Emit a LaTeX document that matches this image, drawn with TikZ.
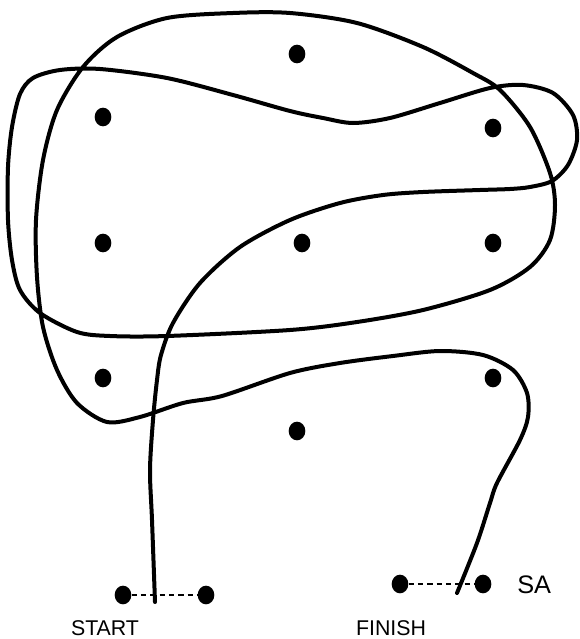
\documentclass[tikz,border=0pt]{standalone}
\usepackage{fontspec}
\setmainfont{Liberation Sans}
\usetikzlibrary{shapes.geometric}
\begin{document}
\begin{tikzpicture}[x=0.75pt,y=-0.75pt,
  dot/.style={ellipse,fill=black,inner sep=0pt,minimum width=12.5pt,minimum height=14pt},
  route/.style={line width=3pt,line cap=round,line join=round},
  dashline/.style={line width=1pt,dash pattern=on 4pt off 3pt},
  lbl/.style={font=\fontsize{16}{18}\selectfont,inner sep=0pt},
  biglbl/.style={font=\fontsize{19}{21}\selectfont,inner sep=0pt}]
\useasboundingbox (0,0) rectangle (580,639);
% grid dots
\node[dot] (d1) at (297,54) {};
\node[dot] (d2) at (103,117) {};
\node[dot] (d3) at (493,128) {};
\node[dot] (d4) at (103,243) {};
\node[dot] (d5) at (302,243) {};
\node[dot] (d6) at (493,243) {};
\node[dot] (d7) at (103,378) {};
\node[dot] (d8) at (493,378) {};
\node[dot] (d9) at (297,431) {};
% start / finish dots
\node[dot] (s1) at (123,595) {};
\node[dot] (s2) at (206,595) {};
\node[dot] (f1) at (400,584) {};
\node[dot] (f2) at (483,584) {};
\draw[dashline] (s1) -- (s2);
\draw[dashline] (f1) -- (f2);
% labels
\node[lbl,anchor=base] (tstart) at (105,635.5) {START};
\node[lbl,anchor=base] (tfinish) at (391,635.5) {FINISH};
\node[biglbl,anchor=base west] (tsa) at (517,593) {SA};
% route
\coordinate (rs) at (155,602);
\coordinate (re) at (457,593);
\draw[route] plot[smooth,tension=0.5] coordinates {
 (rs) (152,520) (150,470) (153,420) (157,380) (161,355) (173,323)
 (200,283) (240,247) (290,220) (340,203) (383,195) (423,192) (480,190) (510,189)
 (530,187) (552,181) (568,165) (577,140) (573,115) (553,93) (523,85) (490,88)
 (440,103) (390,118) (353,123) (323,118) (290,111) (233,95) (167,78) (100,69)
 (60,70) (33,78) (20,94) (12,127) (8,167) (8,220) (12,260) (20,290) (40,313)
 (77,332) (110,336) (167,336) (290,330) (357,322) (423,310) (490,290) (530,267)
 (550,240) (555,205) (550,173) (530,127) (500,90) (473,73) (423,47) (357,23)
 (290,13) (233,13) (167,18) (117,37) (83,67) (57,110) (43,160) (36,220)
 (37,277) (43,327) (57,370) (77,403) (107,422) (140,417) (183,403) (222,396)
 (290,373) (340,363) (393,356) (440,351) (483,355) (513,370) (527,393)
 (528,417) (520,440) (497,483) (490,503) (477,543) (re)};
\end{tikzpicture}
\end{document}
